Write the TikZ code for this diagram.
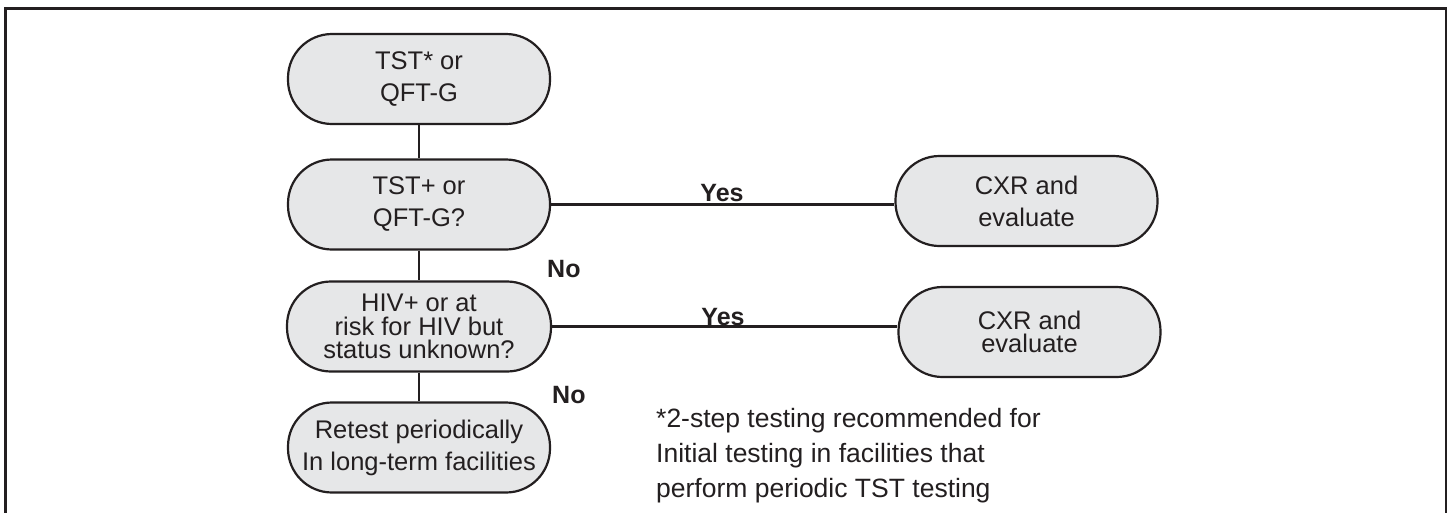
\documentclass[tikz,border=0pt]{standalone}
\usepackage{fontspec}
\setmainfont{Liberation Sans}
\definecolor{ink}{HTML}{231F20}
\definecolor{boxfill}{HTML}{E6E7E8}
\begin{document}
\begin{tikzpicture}[x=1pt,y=-1pt,
  pill/.style={draw=ink, fill=boxfill, line width=2.2pt, rounded corners=44pt,
    minimum width=262pt, minimum height=90pt, align=center, text=ink, inner sep=0pt,
    font=\fontsize{25.5}{32}\selectfont},
  tight/.style={font=\fontsize{25.5}{23.5}\selectfont},
  lbl/.style={font=\fontsize{25}{28}\selectfont\bfseries, text=ink, inner sep=0pt},
  note/.style={font=\fontsize{26.5}{30}\selectfont, text=ink, inner sep=0pt, anchor=base west},
  link/.style={draw=ink, line width=2.2pt}]
\useasboundingbox (0,0) rectangle (1449,512);
\fill[white] (0,0) rectangle (1449,512);
\draw[ink, line width=2.5pt] (5.5,520) -- (5.5,8.5) -- (1446,8.5) -- (1446,520);

\node[pill] (n1) at (419,79) {TST* or\\QFT-G};
\node[pill] (n2) at (419,204.5) {TST+ or\\QFT-G?};
\node[pill, tight, minimum width=264pt] (n3) at (419,326.5) {HIV+ or at\\risk for HIV but\\status unknown?};
\node[pill] (n4) at (419,447.5) {Retest periodically\\In long-term facilities};
\node[pill] (c1) at (1026.5,201) {CXR and\\evaluate};
\node[pill, tight] (c2) at (1029.5,332) {CXR and\\evaluate};

\draw[link] (n1.south) -- (n2.north);
\draw[link] (n2.south) -- (n3.north);
\draw[link] (n3.south) -- (n4.north);
\draw[link] (n2.east) -- (n2.east -| c1.west);
\draw[link] (n3.east) -- (n3.east -| c2.west);

\node[lbl, anchor=base] (y1) at (722,201) {Yes};
\node[lbl, anchor=base] (y2) at (723,325) {Yes};
\node[lbl, anchor=base west] (no1) at (547,277) {No};
\node[lbl, anchor=base west] (no2) at (552,403) {No};

\node[note] (fn1) at (656,427) {*2-step testing recommended for};
\node[note] (fn2) at (656,462) {Initial testing in facilities that};
\node[note] (fn3) at (656,497) {perform periodic TST testing};
\end{tikzpicture}
\end{document}
